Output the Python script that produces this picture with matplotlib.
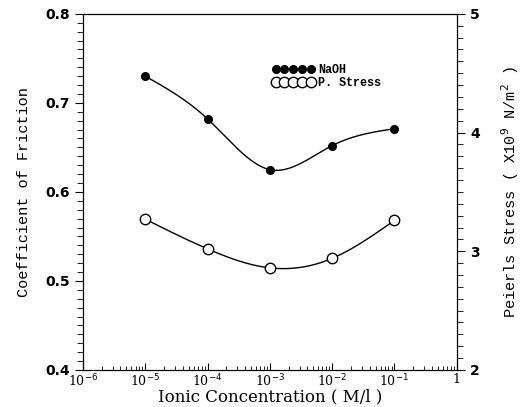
#Coefficient of friction and Peierls stress vs ionic concentration
import numpy as np
import matplotlib
matplotlib.use("Agg")
import matplotlib.pyplot as plt
from matplotlib.ticker import MultipleLocator, FixedLocator, LogLocator, NullFormatter

#data
conc = [1e-5, 1e-4, 1e-3, 1e-2, 1e-1]
friction = [0.730, 0.682, 0.625, 0.652, 0.671]      #NaOH, left axis
peierls = [3.27, 3.02, 2.86, 2.94, 3.26]            #P. Stress, right axis
xtick_pos = [1e-6, 1e-5, 1e-4, 1e-3, 1e-2, 1e-1, 1]
xtick_lab = [r"10$^{-6}$", r"10$^{-5}$", r"10$^{-4}$", r"10$^{-3}$", r"10$^{-2}$", r"10$^{-1}$", "1"]

#smooth curve (natural cubic spline in log10 x)
def spline(x, y, n=200):
    x = np.asarray(x, float); y = np.asarray(y, float)
    m = len(x); h = np.diff(x)
    A = np.zeros((m, m)); b = np.zeros(m)
    A[0, 0] = A[-1, -1] = 1
    for i in range(1, m-1):
        A[i, i-1] = h[i-1]; A[i, i] = 2*(h[i-1]+h[i]); A[i, i+1] = h[i]
        b[i] = 6*((y[i+1]-y[i])/h[i] - (y[i]-y[i-1])/h[i-1])
    M = np.linalg.solve(A, b)
    xs = np.linspace(x[0], x[-1], n); ys = np.empty(n)
    for k, xv in enumerate(xs):
        i = min(np.searchsorted(x, xv) - 1, m-2); i = max(i, 0)
        t1 = x[i+1]-xv; t0 = xv-x[i]
        ys[k] = (M[i]*t1**3 + M[i+1]*t0**3)/(6*h[i]) + (y[i]/h[i]-M[i]*h[i]/6)*t1 + (y[i+1]/h[i]-M[i+1]*h[i]/6)*t0
    return xs, ys

mono = "Liberation Mono"
fig = plt.figure(figsize=(5.25, 4.07), dpi=100)
ax = fig.add_axes([0.158, 0.091, 0.712, 0.875])
ax2 = ax.twinx()

lx = np.log10(conc)
xs, ys = spline(lx, friction)
ax.plot(10**xs, ys, color="black", lw=1.0)
ax.plot(conc, friction, "o", color="black", ms=5.5, label="NaOH")
xs, ys = spline(lx, peierls)
ax2.plot(10**xs, ys, color="black", lw=1.0)
ax2.plot(conc, peierls, "o", mfc="white", mec="black", mew=1.0, ms=7.5, label="P. Stress")

ax.set_xscale("log")
ax.set_xlim(1e-6, 1)
ax.set_ylim(0.4, 0.8)
ax2.set_ylim(2, 5)

ax.xaxis.set_major_locator(FixedLocator(xtick_pos))
ax.set_xticklabels(xtick_lab, fontsize=9, fontfamily="DejaVu Serif")
ax.xaxis.set_minor_locator(LogLocator(base=10, subs=np.arange(2, 10), numticks=20))
ax.xaxis.set_minor_formatter(NullFormatter())
ax.tick_params(axis="x", which="both", direction="in", top=False, pad=2)
ax.tick_params(axis="x", which="major", length=5)
ax.tick_params(axis="x", which="minor", length=3)

ax.yaxis.set_major_locator(MultipleLocator(0.1))
ax.yaxis.set_minor_locator(MultipleLocator(0.01))
ax.tick_params(axis="y", which="major", direction="out", length=6, labelsize=10)
ax.tick_params(axis="y", which="minor", direction="out", length=4)
for t in ax.get_yticklabels():
    t.set_fontweight("bold"); t.set_fontfamily("DejaVu Sans")

ax2.yaxis.set_major_locator(MultipleLocator(1))
ax2.yaxis.set_minor_locator(MultipleLocator(0.1))
ax2.tick_params(axis="y", which="major", direction="out", length=6, labelsize=10)
ax2.tick_params(axis="y", which="minor", direction="out", length=4)
for t in ax2.get_yticklabels():
    t.set_fontweight("bold"); t.set_fontfamily("DejaVu Sans")

ax.set_ylabel("Coefficient of Friction", fontfamily=mono, fontsize=11, labelpad=10)
ax2.set_ylabel(r"Peierls Stress ( X10$^9$ N/m$^2$ )", fontfamily=mono, fontsize=11, labelpad=14)
ax.set_xlabel("Ionic Concentration ( M/l )", fontfamily="DejaVu Serif", fontsize=12, labelpad=-1)

h1, l1 = ax.get_legend_handles_labels()
h2, l2 = ax2.get_legend_handles_labels()
ax.legend(h1+h2, l1+l2, loc="upper left", bbox_to_anchor=(0.49, 0.875), numpoints=5,
          markerscale=1.0, handlelength=3.6, handletextpad=0.3, labelspacing=0.1,
          frameon=False, borderpad=0, prop={"family": mono, "weight": "bold", "size": 8.5})

plt.savefig("out.png", dpi=100)
